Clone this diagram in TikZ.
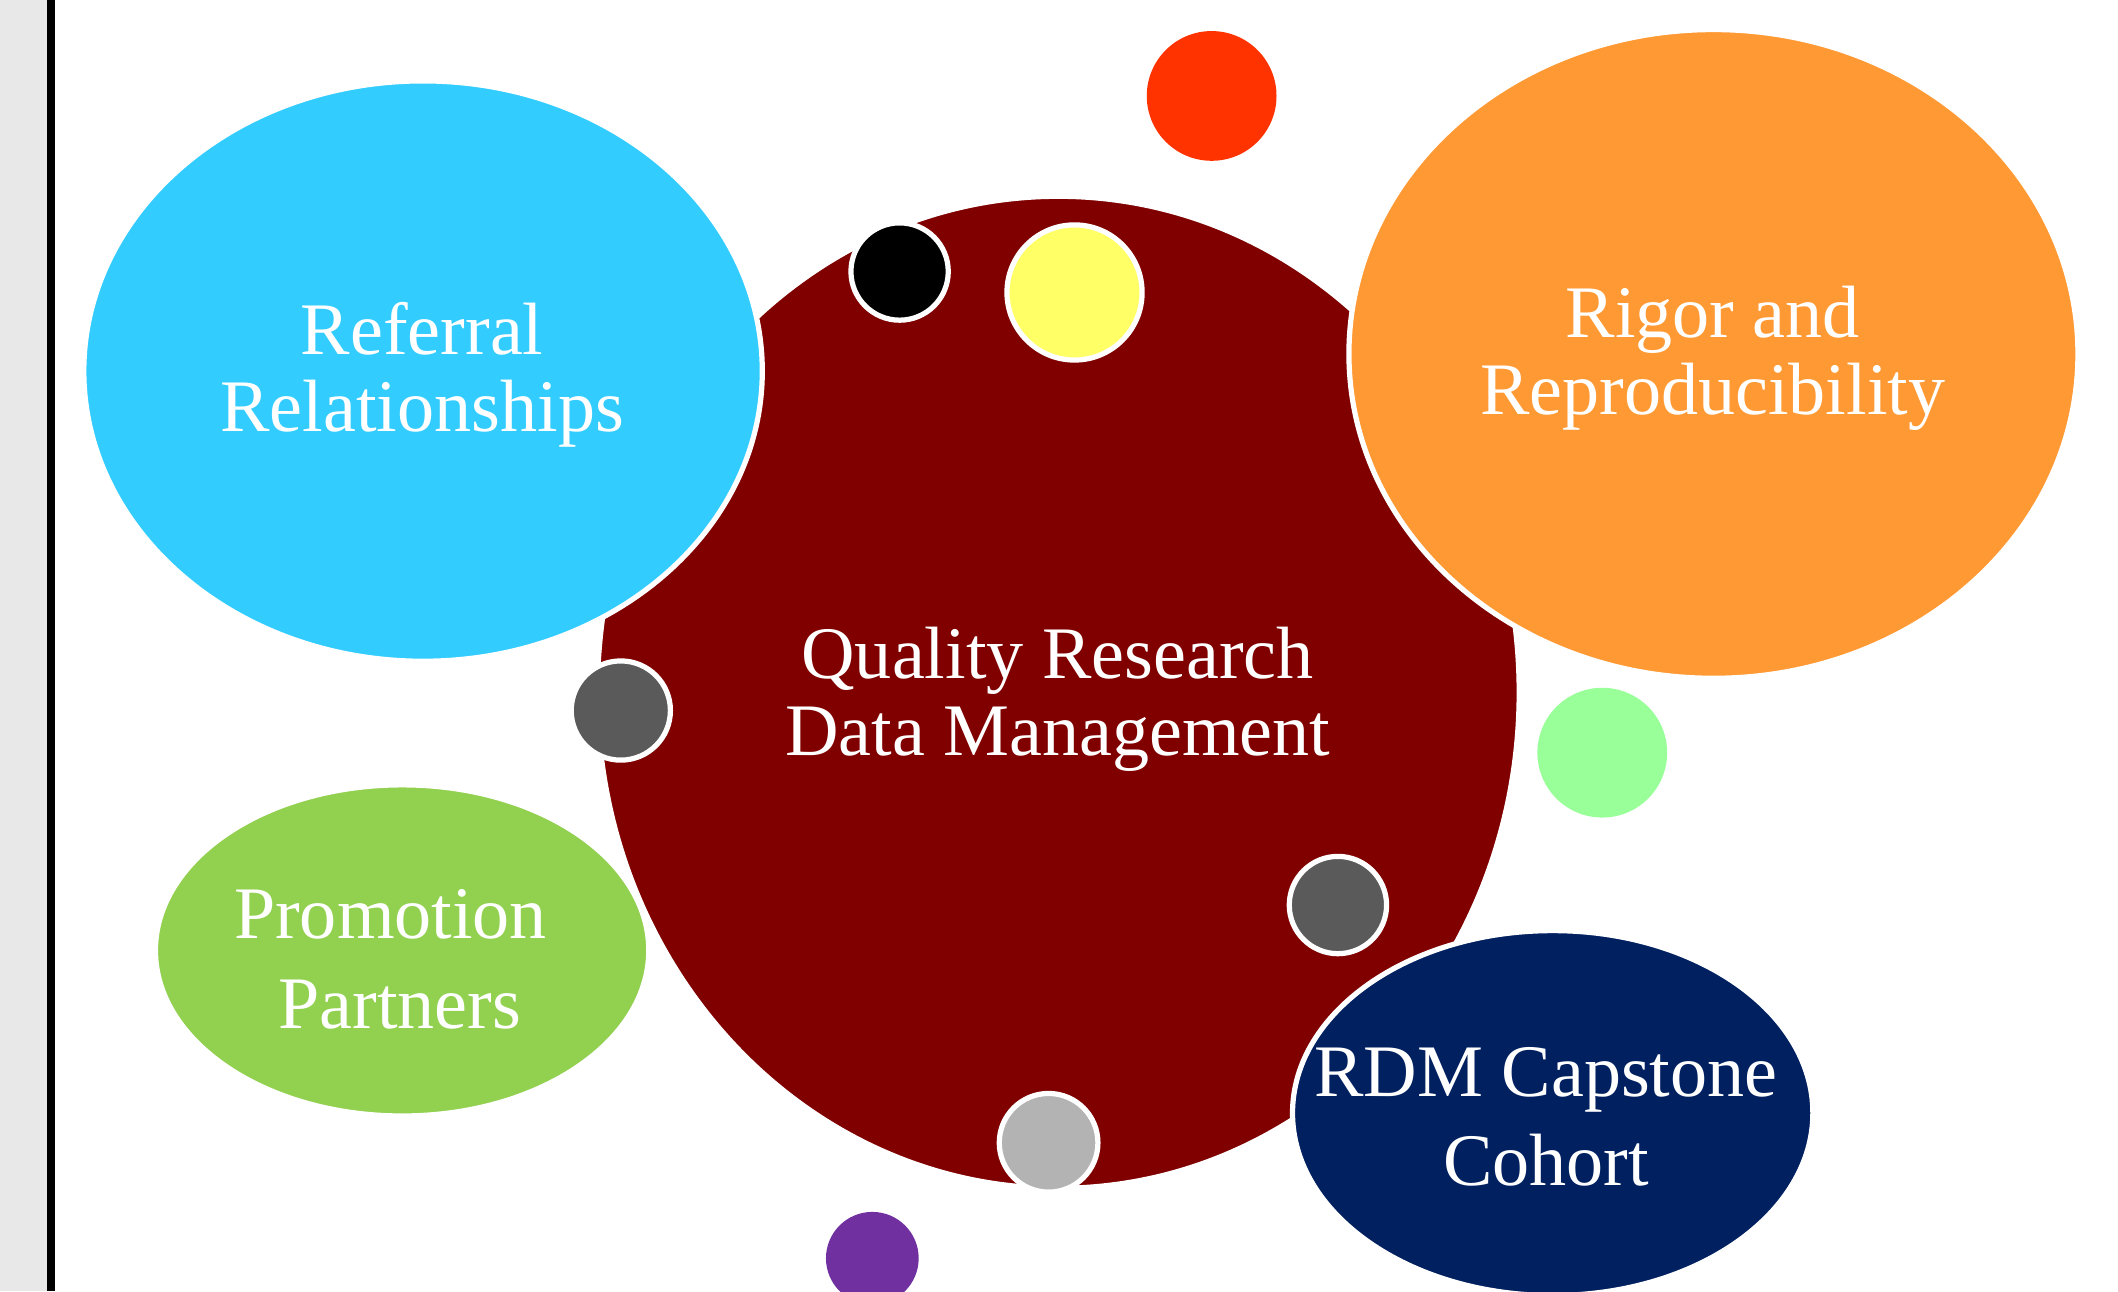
\documentclass[tikz,border=0pt]{standalone}
\usepackage{fontspec}
\setmainfont{Liberation Serif}
\usetikzlibrary{shapes.geometric}
\definecolor{mainred}{HTML}{800000}
\definecolor{skyblue}{HTML}{33CCFF}
\definecolor{orangeb}{HTML}{FF9933}
\definecolor{greenb}{HTML}{92D050}
\definecolor{navyb}{HTML}{002060}
\definecolor{redb}{HTML}{FF3300}
\definecolor{yellowb}{HTML}{FFFF66}
\definecolor{darkgrayb}{HTML}{5A5A5A}
\definecolor{lightgrayb}{HTML}{B3B3B3}
\definecolor{purpleb}{HTML}{7030A0}
\definecolor{lightgreenb}{HTML}{99FF99}
\definecolor{stripgray}{HTML}{E8E8E8}
\tikzset{
  bubble/.style={ellipse, draw=white, line width=1.1pt, inner sep=0pt, outer sep=0pt},
  dot/.style={circle, inner sep=0pt, outer sep=0pt},
  ringdot/.style={dot, draw=white, line width=1.1pt},
  lbl/.style={text=white, align=center, anchor=base, inner sep=0pt,
    font=\fontsize{15.6pt}{16.2pt}\selectfont},
  lblwide/.style={lbl, font=\fontsize{15.6pt}{18.8pt}\selectfont}
}
\begin{document}
\begin{tikzpicture}[x=0.01cm,y=-0.01cm]
\useasboundingbox (0,0) rectangle (1568,956);
\fill[stripgray] (0,0) rectangle (34.8,956);
\draw[black, line width=1.68pt] (37.75,0) -- (37.75,956);
% big bubbles
\node[bubble, fill=mainred, minimum width=6.82cm, minimum height=7.34cm] (qrdm) at (783.5,512.5) {};
\node[bubble, fill=skyblue, minimum width=5.02cm, minimum height=4.294cm] (ref) at (313.2,274.7) {};
\node[bubble, fill=orangeb, minimum width=5.394cm, minimum height=4.80cm] (rig) at (1268.5,262) {};
\node[bubble, fill=greenb, minimum width=3.65cm, minimum height=2.45cm] (pro) at (297.7,703.6) {};
\node[bubble, fill=navyb, minimum width=3.85cm, minimum height=2.70cm] (rdm) at (1149.5,824) {};
% small dots
\node[dot, fill=redb, minimum size=0.96cm] (d1) at (897,71) {};
\node[ringdot, fill=black, minimum size=0.72cm] (d2) at (666,201) {};
\node[ringdot, fill=yellowb, minimum size=1.00cm] (d3) at (795.5,216.5) {};
\node[ringdot, fill=darkgrayb, minimum size=0.734cm] (d4) at (459.6,526) {};
\node[ringdot, fill=darkgrayb, minimum size=0.72cm] (d5) at (990.5,670) {};
\node[ringdot, fill=lightgrayb, minimum size=0.73cm] (d6) at (776.3,846) {};
\node[dot, fill=purpleb, minimum size=0.686cm] (d7) at (645.8,931.5) {};
\node[dot, fill=lightgreenb, minimum size=0.96cm] (d8) at (1186.2,557.2) {};
% labels (base = last line baseline)
\node[lbl] (tq) at (783,559) {Quality Research\\Data Management};
\node[lbl] (tr) at (312.5,319.6) {Referral\\Relationships};
\node[lbl] (tg) at (1268,307) {Rigor and\\Reproducibility};
\node[lblwide] (tp) at (296,761.2) {Promotion\mbox{~}\\Partners};
\node[lblwide] (tc) at (1144.5,878) {RDM Capstone\\Cohort};
\end{tikzpicture}
\end{document}
